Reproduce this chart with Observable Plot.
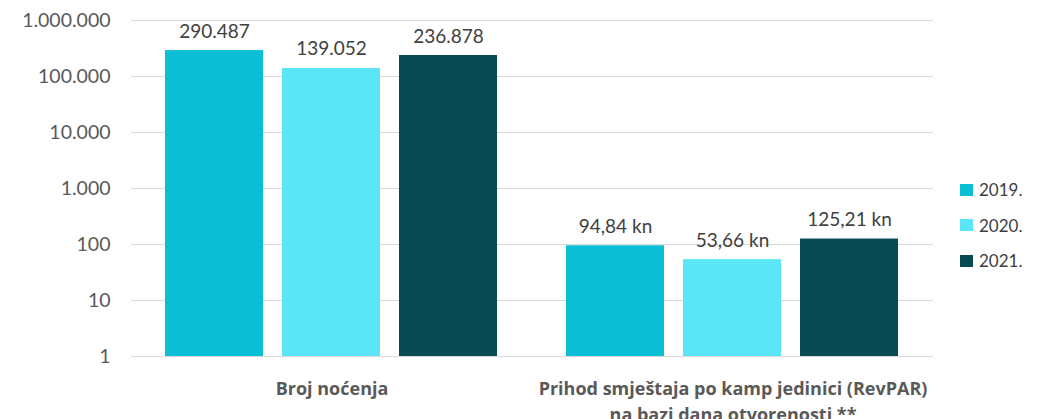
<!DOCTYPE html>
<html>
<head>
<meta charset="utf-8">
<script src="https://cdn.jsdelivr.net/npm/d3@7"></script>
<script src="https://cdn.jsdelivr.net/npm/@observablehq/plot@0.6"></script>
<style>
  html, body { margin: 0; padding: 0; background: #fff; }
  #wrap { position: relative; width: 1045px; height: 419px; }
  #legend { position: absolute; left: 960px; top: 172px; font-family: Lato, sans-serif; font-size: 17px; color: #404040; }
  .item { display: flex; align-items: center; height: 35.5px; }
  .sw { width: 13px; height: 12px; margin-right: 6px; }
</style>
</head>
<body>
<div id="wrap"><div id="legend"></div></div>
<script>
const categories = ["Broj noćenja", "Prihod smještaja po kamp jedinici (RevPAR)\nna bazi dana otvorenosti **"];
const years = ["2019.", "2020.", "2021."];
const colors = ["#0abed5", "#5ae6f6", "#074a53"];
const nocenja = [290487, 139052, 236878];
const revpar = [94.84, 53.66, 125.21];
const yTicks = [1, 10, 100, 1000, 10000, 100000, 1000000];

const loc = d3.formatLocale({decimal: ",", thousands: ".", grouping: [3], currency: ["", " kn"]});
const fmtInt = loc.format(",d");
const fmtKn = loc.format("$,.2f");

const data = [];
years.forEach((yr, i) => {
  data.push({cat: categories[0], year: yr, value: nocenja[i], label: fmtInt(nocenja[i])});
  data.push({cat: categories[1], year: yr, value: revpar[i], label: fmtKn(revpar[i])});
});

const chart = Plot.plot({
  width: 1045,
  height: 419,
  marginLeft: 131,
  marginRight: 112,
  marginTop: 20,
  marginBottom: 63,
  style: {fontFamily: "Lato, sans-serif", background: "transparent"},
  fx: {domain: categories, padding: 0, axis: null},
  x: {domain: years, paddingInner: 19 / 118, paddingOuter: 0.28, axis: null},
  y: {type: "log", domain: [1, 1000000], axis: null},
  color: {domain: years, range: colors},
  marks: [
    Plot.ruleY(yTicks, {stroke: "#d9d9d9", strokeWidth: 1}),
    Plot.axisY(yTicks, {
      tickSize: 0, tickPadding: 21, fontSize: 19.5, fill: "#595959",
      tickFormat: d => fmtInt(d), label: null
    }),
    Plot.rectY(data, {fx: "cat", x: "year", y1: 1, y2: "value", fill: "year"}),
    Plot.text(data, {
      fx: "cat", x: "year", y: "value", text: "label",
      lineAnchor: "bottom", dy: -13, fontSize: 19, fill: "#404040"
    }),
    Plot.text(categories, {
      fx: d => d, text: d => d, frameAnchor: "bottom", lineAnchor: "top",
      dy: 20, fontSize: 18, fontWeight: "bold", fontFamily: "Open Sans, sans-serif",
      fill: "#595959", lineHeight: 1.44
    })
  ]
});
document.getElementById("wrap").prepend(chart);

const legend = document.getElementById("legend");
years.forEach((yr, i) => {
  const it = document.createElement("div");
  it.className = "item";
  const sw = document.createElement("div");
  sw.className = "sw";
  sw.style.background = colors[i];
  const t = document.createElement("span");
  t.textContent = yr;
  it.append(sw, t);
  legend.append(it);
});
</script>
</body>
</html>
